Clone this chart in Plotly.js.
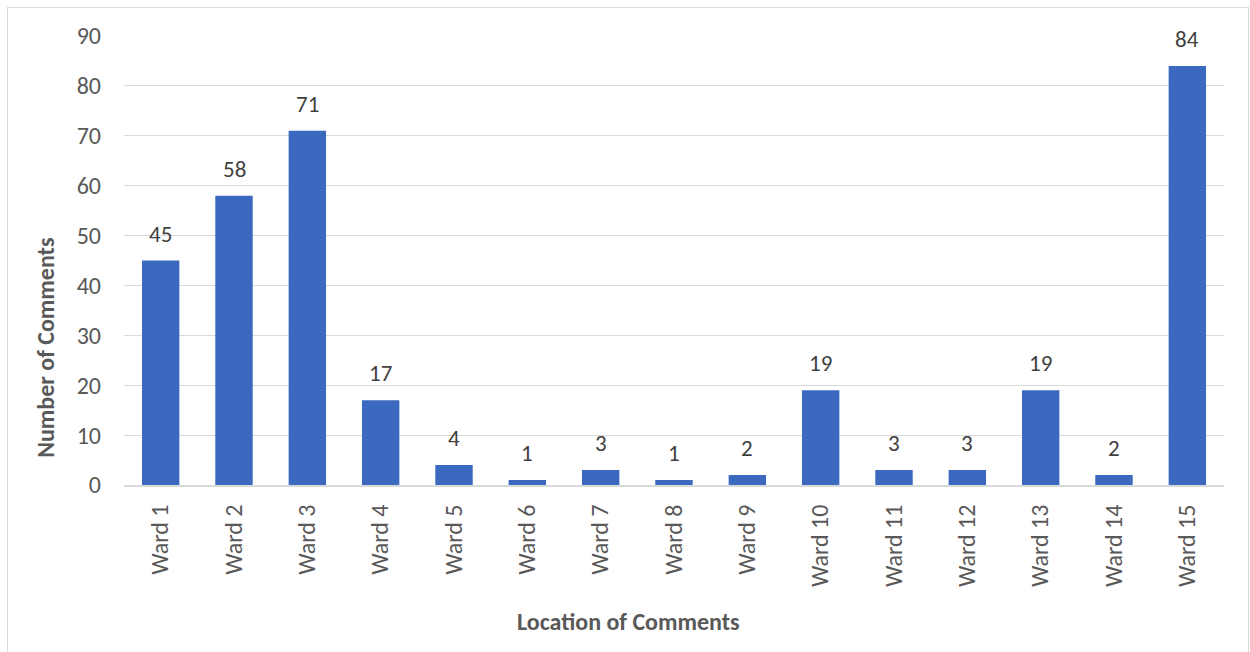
<!DOCTYPE html>
<html>
<head>
<meta charset="utf-8">
<script src="https://cdn.plot.ly/plotly-3.0.1.min.js"></script>
<style>
  html, body { margin: 0; padding: 0; background: #fff; }
  #wrap { position: relative; width: 1250px; height: 652px; overflow: hidden; }
  #chart { position: absolute; left: 0; top: 0; width: 1250px; height: 652px; }
  #frame { position: absolute; left: 7px; top: 7px; width: 1240px; height: 700px;
           border: 1px solid #d9d9d9; pointer-events: none; }
</style>
</head>
<body>
<div id="wrap"><div id="chart"></div><div id="frame"></div></div>
<script>
const categories = ["Ward 1","Ward 2","Ward 3","Ward 4","Ward 5","Ward 6","Ward 7","Ward 8",
                    "Ward 9","Ward 10","Ward 11","Ward 12","Ward 13","Ward 14","Ward 15"];
const comments = [45, 58, 71, 17, 4, 1, 3, 1, 2, 19, 3, 3, 19, 2, 84];
const yTicks = [0, 10, 20, 30, 40, 50, 60, 70, 80, 90];
const xTitle = "Location of Comments";
const yTitle = "Number of Comments";

const FONT = "Carlito, Lato, 'Open Sans', sans-serif";
const TXT = "#595959";

const trace = {
  type: "bar",
  x: categories,
  y: comments,
  marker: { color: "#3c69c0", line: { width: 0 } },
  hoverinfo: "x+y"
};

const labels = categories.map((c, i) => ({
  x: c, y: comments[i], xref: "x", yref: "y",
  text: String(comments[i]), showarrow: false,
  yanchor: "bottom", yshift: 11,
  font: { family: FONT, size: 23, color: "#404040" }
}));

const layout = {
  width: 1250, height: 652,
  margin: { l: 124, r: 26, t: 36, b: 167 },
  paper_bgcolor: "#ffffff", plot_bgcolor: "#ffffff",
  showlegend: false,
  bargap: 0.49,
  font: { family: FONT, color: TXT, size: 23 },
  xaxis: {
    type: "category",
    tickangle: -90,
    showgrid: false,
    showline: true, linecolor: "#d9d9d9", linewidth: 2,
    ticks: "", ticklabelstandoff: 8,
    tickfont: { family: FONT, size: 24, color: TXT },
    fixedrange: true
  },
  yaxis: {
    range: [0, 90],
    tickvals: yTicks,
    ticktext: yTicks.map(String),
    showgrid: true, gridcolor: "#d9d9d9", gridwidth: 1,
    zeroline: false, showline: false, ticks: "",
    ticklabelstandoff: 22,
    tickfont: { family: FONT, size: 24, color: TXT },
    fixedrange: true
  },
  annotations: labels.concat([
    { text: "<b>" + xTitle + "</b>", xref: "paper", yref: "paper",
      x: 0.459, y: -0.304, xanchor: "center", yanchor: "middle", showarrow: false,
      font: { family: FONT, size: 24, color: TXT } },
    { text: "<b>" + yTitle + "</b>", xref: "paper", yref: "paper",
      x: -0.072, y: 0.305, xanchor: "center", yanchor: "middle", showarrow: false,
      textangle: -90,
      font: { family: FONT, size: 24, color: TXT } }
  ])
};

Plotly.newPlot("chart", [trace], layout, { displayModeBar: false, staticPlot: true });
</script>
</body>
</html>
